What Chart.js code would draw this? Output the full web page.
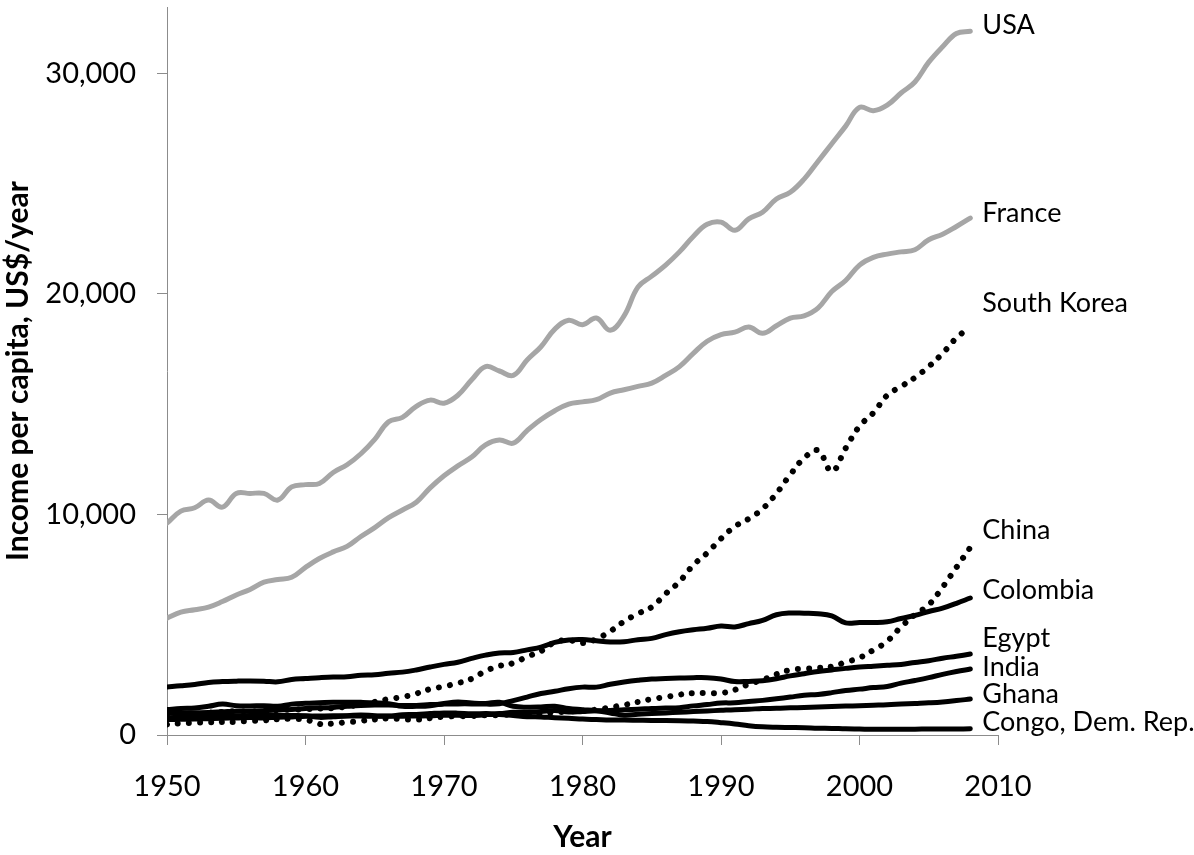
<!DOCTYPE html>
<html>
<head>
<meta charset="utf-8">
<script src="https://cdn.jsdelivr.net/npm/chart.js@4/dist/chart.umd.min.js"></script>
<style>
html,body{margin:0;padding:0;background:#fff;}
canvas{display:block;}
</style>
</head>
<body>
<canvas id="c" width="1194" height="855"></canvas>
<script>
// ---- data ----
const years = [];
for (let y = 1950; y <= 2008; y++) years.push(y);

const countries = ["USA","France","South Korea","China","Colombia","Egypt","India","Ghana","Congo, Dem. Rep."];

const usa = [9600,10150,10300,10650,10330,10950,10950,10950,10650,11250,
11350,11400,11900,12250,12750,13400,14200,14400,14900,15180,
15040,15400,16100,16700,16500,16300,17000,17600,18400,18800,
18600,18900,18350,19000,20300,20800,21300,21900,22600,23150,
23250,22880,23400,23700,24300,24600,25200,26000,26800,27600,
28450,28300,28550,29100,29600,30500,31200,31800,31900];

const france = [5300,5570,5680,5800,6050,6350,6600,6930,7050,7150,
7600,8000,8300,8550,9000,9400,9850,10200,10550,11200,
11750,12200,12600,13150,13370,13230,13800,14300,14700,15000,
15100,15200,15500,15650,15800,15950,16300,16700,17300,17850,
18150,18260,18490,18210,18550,18900,19000,19350,20100,20600,
21300,21650,21800,21900,22000,22450,22700,23050,23430];

const southKorea = [850,800,830,1000,1050,1080,1060,1100,1130,1150,
1170,1200,1220,1290,1380,1500,1630,1720,1880,2080,
2200,2350,2550,2900,3130,3260,3550,3800,4200,4300,
4170,4350,4700,5150,5500,5800,6400,6950,7700,8250,
8900,9450,9800,10250,10950,11800,12550,12900,11950,13000,
14000,14600,15400,15800,16200,16700,17300,18000,18500];

const china = [480,530,560,580,590,600,640,660,720,730,
700,500,520,580,640,700,750,720,700,760,
830,850,860,900,900,930,910,960,1020,1060,
1100,1150,1250,1360,1500,1630,1720,1830,1900,1900,
1900,2050,2300,2500,2750,2950,3000,3040,3100,3300,
3500,3850,4250,4900,5450,5900,6700,7600,8500];

const colombia = [2180,2230,2290,2380,2420,2440,2450,2440,2410,2520,
2560,2600,2630,2640,2710,2730,2800,2850,2950,3080,
3200,3300,3470,3620,3720,3740,3860,3980,4200,4310,
4330,4270,4220,4230,4320,4380,4550,4680,4770,4840,
4940,4900,5050,5200,5450,5530,5520,5500,5400,5080,
5100,5100,5130,5280,5420,5600,5750,5970,6210];

const egypt = [1000,1000,1010,1020,1050,1080,1080,1100,1130,1160,
1200,1230,1250,1300,1340,1360,1360,1340,1340,1380,
1400,1410,1410,1400,1420,1560,1720,1880,1980,2100,
2170,2170,2300,2400,2480,2540,2560,2580,2600,2600,
2540,2420,2430,2460,2550,2680,2780,2880,2950,3020,
3080,3120,3160,3200,3290,3370,3480,3570,3670];

const india = [700,710,720,740,760,770,790,770,810,820,
850,860,870,870,910,870,860,920,930,970,
1000,990,960,970,970,1030,1020,1060,1110,1040,
1070,1100,1110,1150,1170,1200,1220,1240,1320,1380,
1450,1460,1520,1570,1640,1720,1800,1840,1920,2020,
2080,2150,2200,2350,2470,2600,2750,2880,2990];

const ghana = [1150,1200,1220,1300,1400,1330,1320,1330,1300,1400,
1440,1460,1480,1490,1480,1460,1420,1300,1300,1330,
1430,1500,1450,1430,1480,1300,1260,1270,1300,1200,
1150,1100,1000,900,940,970,1000,1030,1060,1090,
1120,1150,1170,1200,1210,1230,1250,1270,1290,1310,
1330,1350,1370,1400,1430,1460,1500,1560,1630];

const congo = [780,800,820,830,860,870,880,900,880,880,
870,800,830,860,860,850,850,850,860,870,
900,890,880,920,930,880,830,820,780,760,
720,700,680,680,670,660,660,650,630,610,
560,500,420,370,350,340,330,310,300,280,
270,260,260,260,265,270,270,275,280];

// label anchor values (data units) at the right end of each series
const labelValues = [32170,23650,19570,9290,6570,4390,3080,1860,590];
const yTicks = [0,10000,20000,30000];
const xTicks = [1950,1960,1970,1980,1990,2000,2010];

// ---- chart ----
const seriesValues = [usa,france,southKorea,china,colombia,egypt,india,ghana,congo];
const seriesColor = ["#a6a6a6","#a6a6a6","#000","#000","#000","#000","#000","#000","#000"];
const seriesDotted = [false,false,true,true,false,false,false,false,false];

const datasets = countries.map((name,i)=>({
  label: name,
  data: years.map((yr,j)=>({x:yr, y:seriesValues[i][j]})),
  borderColor: seriesColor[i],
  backgroundColor: seriesColor[i],
  borderWidth: seriesDotted[i] ? 6 : 5,
  borderDash: seriesDotted[i] ? [0.001, 11] : [],
  borderCapStyle: 'round',
  borderJoinStyle: 'round',
  pointRadius: 0,
  tension: 0.4,
  fill: false
}));

const endLabels = {
  id: 'endLabels',
  afterDatasetsDraw(chart){
    const ctx = chart.ctx, xs = chart.scales.x, ys = chart.scales.y;
    ctx.save();
    ctx.font = '27px Lato';
    ctx.fillStyle = '#000';
    ctx.textAlign = 'left';
    ctx.textBaseline = 'middle';
    countries.forEach((name,i)=>{
      const px = xs.getPixelForValue(years[years.length-1]) + 12;
      const py = ys.getPixelForValue(labelValues[i]);
      ctx.fillText(name, px, py);
    });
    ctx.restore();
  }
};

new Chart(document.getElementById('c'), {
  type: 'line',
  data: { datasets },
  options: {
    responsive: false,
    animation: false,
    devicePixelRatio: 1,
    layout: { padding: { left: 0, right: 196, top: 7, bottom: 0 } },
    plugins: { legend: { display: false }, tooltip: { enabled: false } },
    scales: {
      x: {
        type: 'linear',
        min: 1950, max: 2010,
        afterBuildTicks(scale){ scale.ticks = xTicks.map(v=>({value:v})); },
        afterFit(scale){ scale.paddingLeft = 0; scale.paddingRight = 0; scale.height = 120; },
        ticks: { color:'#000', font:{family:'Lato', size:29}, padding: 24, maxRotation:0, callback: v => String(v) },
        grid: { drawOnChartArea:false, drawTicks:true, tickLength:10, color:'#8c8c8c', lineWidth:1 },
        border: { color:'#8c8c8c', width:1 },
        title: { display:true, text:'Year', color:'#000', font:{family:'Lato', size:30, weight:'bold'}, padding:{top:10, bottom:0} }
      },
      y: {
        min: 0, max: 33000,
        afterBuildTicks(scale){ scale.ticks = yTicks.map(v=>({value:v})); },
        afterFit(scale){ scale.paddingTop = 0; scale.paddingBottom = 0; scale.width = 167; },
        ticks: { color:'#000', font:{family:'Lato', size:29}, padding: 21, callback: v => v.toLocaleString('en-US') },
        grid: { drawOnChartArea:false, drawTicks:true, tickLength:10, color:'#8c8c8c', lineWidth:1 },
        border: { color:'#8c8c8c', width:1 },
        title: { display:true, text:'Income per capita, US$/year', color:'#000', font:{family:'Lato', size:30, weight:'bold'}, padding:{top:0, bottom:0} }
      }
    }
  },
  plugins: [endLabels]
});
</script>
</body>
</html>
